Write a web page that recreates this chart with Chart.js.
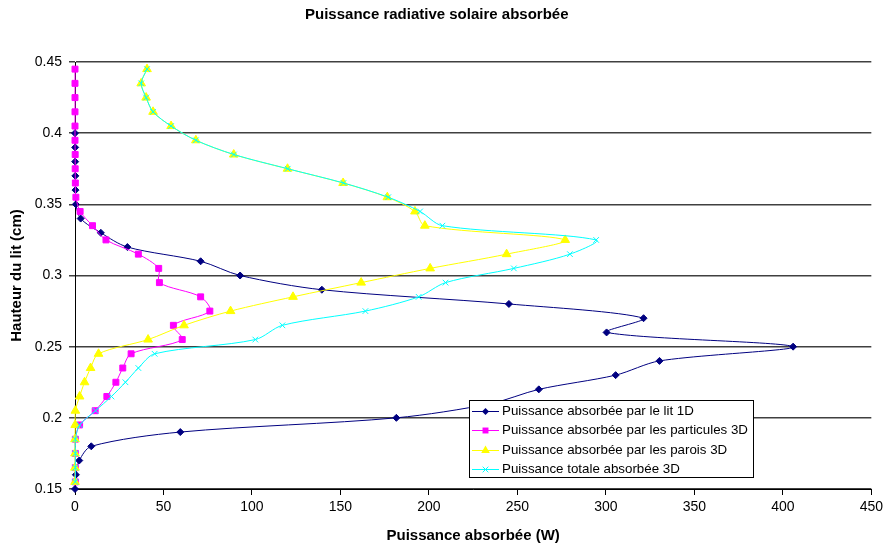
<!DOCTYPE html>
<html>
<head>
<meta charset="utf-8">
<title>Puissance radiative solaire absorbée</title>
<script src="https://cdn.jsdelivr.net/npm/chart.js"></script>
<style>
  html, body { margin: 0; padding: 0; background: #fff; }
  #wrap { width: 887px; height: 550px; }
</style>
</head>
<body>
<div id="wrap"><canvas id="chart" width="887" height="550"></canvas></div>
<script>
// hauteurs du lit (cm)
const hauteursLit = [0.15, 0.16, 0.17, 0.18, 0.19, 0.20, 0.21, 0.22, 0.23, 0.24, 0.25, 0.26, 0.27,
    0.28, 0.29, 0.30, 0.31, 0.32, 0.33, 0.34, 0.35, 0.36, 0.37, 0.38, 0.39, 0.40];
const hauteurs3D = [0.155, 0.165, 0.175, 0.185, 0.195, 0.205, 0.215, 0.225, 0.235, 0.245, 0.255, 0.265,
    0.275, 0.285, 0.295, 0.305, 0.315, 0.325, 0.335, 0.345, 0.355, 0.365, 0.375, 0.385, 0.395, 0.405,
    0.415, 0.425, 0.435, 0.445];

// puissances absorbées (W)
const puissanceLit1D = [0, 0.5, 2.4, 9.2, 59.5, 181.6, 235, 262.1, 305.5, 330.3, 405.8, 300.4, 321.3,
    245.2, 139.5, 93.3, 71, 29.6, 14.6, 3.2, 0.5, 0.3, 0.2, 0.1, 0.1, 0];
const puissanceParticules3D = [0.2, 0.2, 0.2, 0.2, 2.6, 11.4, 18, 23.1, 27, 31.7, 60.6, 55.6, 76.2, 71,
    47.7, 47.3, 35.8, 17.5, 9.9, 2.9, 0.5, 0.2, 0.1, 0.1, 0, 0, 0, 0, 0, 0];
const puissanceParois3D = [0, 0, 0, 0, 0.1, 0.2, 2.6, 5.4, 8.8, 13.3, 41.3, 61.6, 87.9, 123.2, 161.7,
    200.7, 243.9, 277, 197.7, 192.1, 176.5, 151.5, 120.1, 89.7, 68.3, 54.3, 44.1, 40.2, 37.4, 40.7];
const puissanceTotale3D = [0.2, 0.2, 0.2, 0.2, 2.7, 11.6, 20.6, 28.5, 35.8, 45, 101.9, 117.2, 164.1, 194.2,
    209.4, 248, 279.7, 294.5, 207.6, 195, 177, 151.7, 120.2, 89.8, 68.3, 54.3, 44.1, 40.2, 37.4, 40.7];

const seriesLabels = [
    'Puissance absorbée par le lit 1D',
    'Puissance absorbée par les particules 3D',
    'Puissance absorbée par les parois 3D',
    'Puissance totale absorbée 3D'
];

const xTicks = [0, 50, 100, 150, 200, 250, 300, 350, 400, 450];
const xTickLabels = ['0', '50', '100', '150', '200', '250', '300', '350', '400', '450'];
const yTicks = [0.15, 0.2, 0.25, 0.3, 0.35, 0.4, 0.45];
const yTickLabels = ['0.15', '0.2', '0.25', '0.3', '0.35', '0.4', '0.45'];

const FONT = "'Liberation Sans', Arial, sans-serif";
Chart.defaults.font.family = FONT;
Chart.defaults.color = '#000';

function toPoints(xs, ys) {
    return xs.map((x, i) => ({ x: x, y: ys[i] }));
}

function drawMarker(ctx, style, x, y, r, color) {
    ctx.save();
    ctx.fillStyle = color;
    ctx.strokeStyle = color;
    ctx.lineWidth = 1;
    ctx.beginPath();
    if (style === 'rectRot') {
        ctx.moveTo(x, y - r);
        ctx.lineTo(x + r, y);
        ctx.lineTo(x, y + r);
        ctx.lineTo(x - r, y);
        ctx.closePath();
        ctx.fill();
    } else if (style === 'rect') {
        const s = r * Math.SQRT1_2;
        ctx.rect(x - s, y - s, 2 * s, 2 * s);
        ctx.fill();
    } else if (style === 'triangle') {
        const w = r * Math.sqrt(3) / 2;
        ctx.moveTo(x, y - r);
        ctx.lineTo(x + w, y + r / 2);
        ctx.lineTo(x - w, y + r / 2);
        ctx.closePath();
        ctx.fill();
    } else if (style === 'crossRot') {
        const d = r * Math.SQRT1_2;
        ctx.moveTo(x - d, y - d);
        ctx.lineTo(x + d, y + d);
        ctx.moveTo(x - d, y + d);
        ctx.lineTo(x + d, y - d);
        ctx.stroke();
    }
    ctx.restore();
}

// légende dessinée dans la zone du graphique, comme dans Excel
const legendPlugin = {
    id: 'excelLegend',
    afterDatasetsDraw(chart) {
        const ctx = chart.ctx;
        const left = 469, top = 400, width = 284, height = 77;
        ctx.save();
        ctx.fillStyle = '#fff';
        ctx.fillRect(left, top, width, height);
        ctx.strokeStyle = '#000';
        ctx.lineWidth = 1;
        ctx.strokeRect(left + 0.5, top + 0.5, width, height);
        ctx.font = '13.33px ' + FONT;
        ctx.textBaseline = 'middle';
        ctx.textAlign = 'left';
        chart.data.datasets.forEach((ds, i) => {
            const y = Math.round(top + 11 + i * 19.4) + 0.5;
            ctx.strokeStyle = ds.borderColor;
            ctx.lineWidth = 1;
            ctx.beginPath();
            ctx.moveTo(472, y);
            ctx.lineTo(499, y);
            ctx.stroke();
            drawMarker(ctx, ds.pointStyle, 485.5, y, ds.pointRadius, ds.borderColor);
            ctx.fillStyle = '#000';
            ctx.fillText(ds.label, 502, y);
        });
        ctx.restore();
    }
};

function makeDataset(label, xs, ys, color, style, radius, order) {
    return {
        label: label,
        data: toPoints(xs, ys),
        showLine: true,
        borderColor: color,
        backgroundColor: color,
        borderWidth: 1,
        tension: 0.3,
        pointStyle: style,
        pointRadius: radius,
        pointBorderColor: color,
        pointBackgroundColor: color,
        pointBorderWidth: 1,
        clip: false,
        order: order
    };
}

const ctx = document.getElementById('chart').getContext('2d');

new Chart(ctx, {
    type: 'scatter',
    data: {
        datasets: [
            makeDataset(seriesLabels[0], puissanceLit1D, hauteursLit, '#000080', 'rectRot', 3.5, 4),
            makeDataset(seriesLabels[1], puissanceParticules3D, hauteurs3D, '#FF00FF', 'rect', 4.2, 3),
            makeDataset(seriesLabels[2], puissanceParois3D, hauteurs3D, '#FFFF00', 'triangle', 5, 2),
            makeDataset(seriesLabels[3], puissanceTotale3D, hauteurs3D, '#00FFFF', 'crossRot', 4, 1)
        ]
    },
    options: {
        responsive: false,
        devicePixelRatio: 1,
        animation: false,
        layout: { padding: { left: 0, right: 13.5, top: 0, bottom: 0 } },
        plugins: {
            legend: { display: false },
            tooltip: { enabled: false },
            title: {
                display: true,
                text: 'Puissance radiative solaire absorbée',
                font: { size: 15, weight: 'bold', family: FONT },
                color: '#000',
                padding: { top: 6, bottom: 38 }
            }
        },
        scales: {
            x: {
                type: 'linear',
                min: 0,
                max: 450,
                afterBuildTicks: scale => { scale.ticks = xTicks.map(v => ({ value: v })); },
                afterFit: scale => { scale.height = 61; },
                ticks: {
                    font: { size: 14 },
                    color: '#000',
                    padding: 4,
                    maxRotation: 0,
                    callback: (value, index) => xTickLabels[index]
                },
                grid: { drawOnChartArea: false, drawTicks: true, tickLength: 6, color: '#000' },
                border: { color: '#000', width: 1 },
                title: {
                    display: true,
                    text: 'Puissance absorbée (W)',
                    font: { size: 15, weight: 'bold' },
                    color: '#000',
                    padding: { top: 4, bottom: 5 }
                }
            },
            y: {
                type: 'linear',
                min: 0.15,
                max: 0.45,
                afterBuildTicks: scale => { scale.ticks = yTicks.map(v => ({ value: v })); },
                afterFit: scale => { scale.width = 75; },
                ticks: {
                    font: { size: 14 },
                    color: '#000',
                    padding: 7,
                    callback: (value, index) => yTickLabels[index]
                },
                grid: { drawOnChartArea: true, drawTicks: true, tickLength: 6, color: '#404040', lineWidth: 1.5 },
                border: { color: '#000', width: 1 },
                title: {
                    display: true,
                    text: 'Hauteur du lit (cm)',
                    font: { size: 15, weight: 'bold' },
                    color: '#000',
                    padding: { top: 8, bottom: 4 }
                }
            }
        }
    },
    plugins: [legendPlugin]
});
</script>
</body>
</html>
